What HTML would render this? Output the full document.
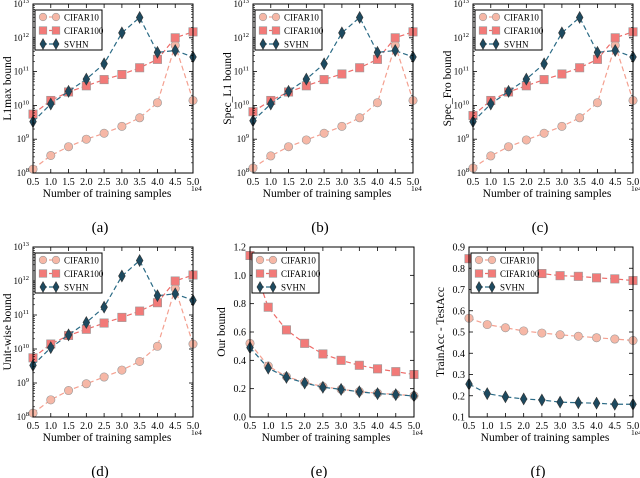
<!DOCTYPE html>
<html><head><meta charset="utf-8"><style>
body{margin:0;background:#fff}
svg{display:block;font-family:"Liberation Serif",serif}
</style></head><body>
<svg id="fig" width="640" height="478" viewBox="0 0 640 478" xmlns="http://www.w3.org/2000/svg"></svg>
<script>
const xs = [0.5,1.0,1.5,2.0,2.5,3.0,3.5,4.0,4.5,5.0];
const xTickLabels = ["0.5","1.0","1.5","2.0","2.5","3.0","3.5","4.0","4.5","5.0"];
const seriesNames = ["CIFAR10","CIFAR100","SVHN"];
// panel a
const aC10 = [1.3e8,3.3e8,6e8,1e9,1.5e9,2.4e9,4.3e9,1.2e10,6e11,1.4e10];
const aC100 = [5.5e9,1.4e10,2.5e10,3.8e10,5.8e10,8.2e10,1.3e11,2.3e11,1e12,1.5e12];
const aSV = [3.3e9,1.1e10,2.6e10,6e10,1.7e11,1.4e12,4e12,3.7e11,4.2e11,2.7e11];
// panel b
const bC10 = [1.4e8,3.2e8,6e8,9.5e8,1.5e9,2.4e9,4.3e9,1.2e10,6e11,1.4e10];
const bC100 = [6.5e9,1.4e10,2.5e10,3.8e10,5.8e10,8.5e10,1.3e11,2.3e11,1e12,1.5e12];
const bSV = [3.5e9,1.1e10,2.6e10,6e10,1.7e11,1.4e12,4e12,3.7e11,4.2e11,2.7e11];
// panel c
const cC10 = [1.4e8,3.2e8,6e8,9.5e8,1.5e9,2.4e9,4.3e9,1.2e10,6e11,1.4e10];
const cC100 = [5e9,1.4e10,2.5e10,3.8e10,5.8e10,8.5e10,1.3e11,2.3e11,1e12,1.5e12];
const cSV = [3.3e9,1.1e10,2.6e10,6e10,1.7e11,1.4e12,4e12,3.7e11,4.2e11,2.7e11];
// panel d
const dC10 = [1.3e8,3.2e8,6e8,9.5e8,1.5e9,2.4e9,4.3e9,1.2e10,6e11,1.4e10];
const dC100 = [5.5e9,1.4e10,2.5e10,3.8e10,5.8e10,8.5e10,1.3e11,2.3e11,1e12,1.5e12];
const dSV = [3.3e9,1.1e10,2.6e10,6e10,1.7e11,1.4e12,4e12,3.7e11,4.2e11,2.7e11];
// panel e
const eC10 = [0.52,0.36,0.285,0.245,0.215,0.195,0.18,0.168,0.16,0.15];
const eC100 = [1.14,0.775,0.615,0.52,0.445,0.40,0.365,0.34,0.32,0.30];
const eSV = [0.49,0.345,0.28,0.24,0.21,0.195,0.178,0.165,0.158,0.148];
// panel f
const fC10 = [0.565,0.535,0.52,0.505,0.495,0.487,0.48,0.473,0.467,0.46];
const fC100 = [0.845,0.80,0.79,0.78,0.775,0.765,0.762,0.755,0.75,0.742];
const fSV = [0.255,0.21,0.195,0.185,0.18,0.17,0.167,0.165,0.16,0.16];
const eTicks = ["0.0","0.2","0.4","0.6","0.8","1.0","1.2"];
const fTicks = ["0.1","0.2","0.3","0.4","0.5","0.6","0.7","0.8","0.9"];
const logExps = [8,9,10,11,12,13];

const NS="http://www.w3.org/2000/svg";
const svg=document.getElementById('fig');
function mk(tag,attrs,parent){const e=document.createElementNS(NS,tag);for(const k in attrs)e.setAttribute(k,attrs[k]);(parent||svg).appendChild(e);return e;}
const colors={CIFAR10:{fill:"#f6b7a6",line:"#f4a090"},CIFAR100:{fill:"#f27a78",line:"#ee6b68"},SVHN:{fill:"#1d4a60",line:"#2a6a85"}};

function marker(g,name,x,y,r){
  const c=colors[name];let m;
  if(name==="CIFAR10") m=mk('circle',{cx:x,cy:y,r:r,fill:c.fill,stroke:"#999",'stroke-width':0.6},g);
  else if(name==="CIFAR100") m=mk('rect',{x:x-r,y:y-r,width:2*r,height:2*r,fill:c.fill,stroke:"#999",'stroke-width':0.6},g);
  else m=mk('polygon',{points:`${x},${y-r*1.4} ${x+r*0.8},${y} ${x},${y+r*1.4} ${x-r*0.8},${y}`,fill:c.fill,stroke:"#333",'stroke-width':0.6},g);
  return m;
}

function panel(id,L,T,W,H,yLabel,caption,data,scale){
  const g=mk('g',{});
  
  
  const xS=v=>L+(v-0.5)/4.5*W;
  let yS;
  if(scale.log){yS=v=>T+H-(Math.log10(v)-8)/5*H;}
  else{yS=v=>T+H-(v-scale.min)/(scale.max-scale.min)*H;}
  // series
  data.forEach((vals,si)=>{
    const nm=seriesNames[si];
    const pts=vals.map((v,i)=>xS(xs[i])+","+yS(v)).join(" ");
    const pl=mk('polyline',{points:pts,fill:"none",stroke:colors[nm].line,'stroke-width':1.2,'stroke-dasharray':"5,3"},g);
    
    
    vals.forEach((v,i)=>{
      const m=marker(g,nm,xS(xs[i]),yS(v),4.2);
      
      
    });
  });
  // frame
  const fr=mk('rect',{x:L,y:T,width:W,height:H,fill:"none",stroke:"#000",'stroke-width':1},g);
  
  
  // x ticks
  xs.forEach((v,i)=>{
    const x=xS(v);
    mk('line',{x1:x,y1:T+H,x2:x,y2:T+H-4,stroke:"#000",'stroke-width':0.8},g);
    mk('line',{x1:x,y1:T,x2:x,y2:T+4,stroke:"#000",'stroke-width':0.8},g);
    const t=mk('text',{x:x,y:T+H+12,'font-size':10,'text-anchor':"middle"},g);
    t.textContent=xTickLabels[i];
    
    
  });
  const e4=mk('text',{x:L+W-2,y:T+H+18,'font-size':7.5},g);
  e4.textContent="1e4";
  
  
  const xt=mk('text',{x:L+W/2-6,y:T+H+24,'font-size':11.5,'text-anchor':"middle"},g);
  xt.textContent="Number of training samples";
  
  
  // y ticks
  if(scale.log){
    logExps.forEach(ex=>{
      const y=T+H-(ex-8)/5*H;
      mk('line',{x1:L,y1:y,x2:L+4,y2:y,stroke:"#000",'stroke-width':0.8},g);
      mk('line',{x1:L+W,y1:y,x2:L+W-4,y2:y,stroke:"#000",'stroke-width':0.8},g);
      if(ex<13){for(let k=2;k<10;k++){const yy=T+H-(ex+Math.log10(k)-8)/5*H;
        mk('line',{x1:L,y1:yy,x2:L+2,y2:yy,stroke:"#000",'stroke-width':0.6},g);
        mk('line',{x1:L+W,y1:yy,x2:L+W-2,y2:yy,stroke:"#000",'stroke-width':0.6},g);}}
      const t=mk('text',{x:L-4,y:y+3,'font-size':9,'text-anchor':"end"},g);
      t.textContent="10";
      const s=mk('tspan',{'font-size':6.5,dy:-4},t);s.textContent=String(ex);
      
      
    });
  } else {
    scale.ticks.forEach(lab=>{
      const y=yS(parseFloat(lab));
      mk('line',{x1:L,y1:y,x2:L+4,y2:y,stroke:"#000",'stroke-width':0.8},g);
      mk('line',{x1:L+W,y1:y,x2:L+W-4,y2:y,stroke:"#000",'stroke-width':0.8},g);
      const t=mk('text',{x:L-4,y:y+3.5,'font-size':10,'text-anchor':"end"},g);
      t.textContent=lab;
      
      
    });
  }
  const yt=mk('text',{x:0,y:0,'font-size':11.5,'text-anchor':"middle",transform:`translate(${L-(scale.log?22:25)},${T+H/2}) rotate(-90)`},g);
  yt.textContent=yLabel;
  
  
  // legend
  const lg=mk('g',{},g);
  
  
  mk('rect',{x:L+2,y:T+6,width:67,height:40,fill:"#fff",stroke:"#000",'stroke-width':1},lg);
  seriesNames.forEach((nm,i)=>{
    const y=T+13+i*13.5;
    mk('line',{x1:L+10,y1:y,x2:L+23,y2:y,stroke:colors[nm].line,'stroke-width':1.2,'stroke-dasharray':"4,2"},lg);
    marker(lg,nm,L+10,y,3.8);marker(lg,nm,L+23,y,3.8);
    const t=mk('text',{x:L+31,y:y+3.5,'font-size':9},lg);
    t.textContent=nm;
    
    
  });
  const cp=mk('text',{x:L+W/2-13,y:T+H+59,'font-size':15,'text-anchor':"middle"},g);
  cp.textContent=caption;
  
  
}
const lg={log:true};
panel('a',33,4,160,169,"L1max bound","(a)",[aC10,aC100,aSV],lg);
panel('b',253,4,160,169,"Spec_L1 bound","(b)",[bC10,bC100,bSV],lg);
panel('c',473,4,160,169,"Spec_Fro bound","(c)",[cC10,cC100,cSV],lg);
panel('d',33,247,160,170,"Unit-wise bound","(d)",[dC10,dC100,dSV],lg);
panel('e',250,247,164,170,"Our bound","(e)",[eC10,eC100,eSV],{log:false,min:0,max:1.2,ticks:eTicks});
panel('f',469,247,164,170,"TrainAcc - TestAcc","(f)",[fC10,fC100,fSV],{log:false,min:0.1,max:0.9,ticks:fTicks});
</script>
</body></html>
